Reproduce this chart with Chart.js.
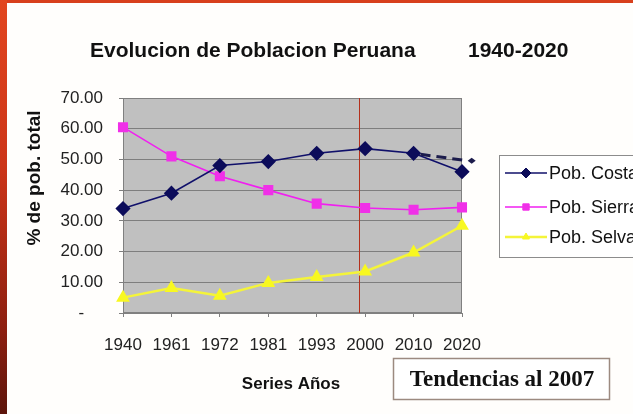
<!DOCTYPE html>
<html>
<head>
<meta charset="utf-8">
<script src="https://cdn.jsdelivr.net/npm/chart.js@4"></script>
<style>
  html, body { margin: 0; padding: 0; background: #ffffff; }
  #wrap { position: relative; width: 633px; height: 414px; overflow: hidden; background: #fffefc; }
  #chart { position: absolute; left: 0; top: 0; }
  .edge-left { position: absolute; left: 0; top: 0; width: 7px; height: 414px;
    background: linear-gradient(to bottom, #e2461f, #cc3518 40%, #8c1f10 80%, #5c150b); }
  .edge-top { position: absolute; left: 0; top: 0; width: 633px; height: 3px; background: #d8401d; }
</style>
</head>
<body>
<div id="wrap">
  <canvas id="chart" width="633" height="414"></canvas>
  <div class="edge-top"></div>
  <div class="edge-left"></div>
</div>
<script>
// Data
const years = ["1940", "1961", "1972", "1981", "1993", "2000", "2010", "2020"];
const costa = [34, 39, 48, 49.3, 52, 53.5, 52, 46];
const sierra = [60.5, 51, 44.5, 40, 35.6, 34.2, 33.6, 34.4];
const selva = [5, 8.1, 5.6, 9.8, 11.7, 13.5, 19.7, 28.4];
const seriesNames = ["Pob. Costa", "Pob. Sierra", "Pob. Selva"];

// Dashed trend on the costa line, and the vertical marker line
const trendStartIndex = 6;
const trendEnd = { index: 7.2, value: 49.6 };
const markerIndex = 4.87;

const titleMain = "Evolucion de Poblacion Peruana";
const titleYears = "1940-2020";
const yTitle = "% de pob. total";
const xTitle = "Series Años";
const noteText = "Tendencias al 2007";

const sans = "'Liberation Sans', Arial, sans-serif";

// Extra drawing: gray plot, marker line, trend, titles, legend, note box
const decor = {
  id: "decor",
  beforeDraw(chart) {
    const { ctx, chartArea: a } = chart;
    ctx.save();
    ctx.fillStyle = "#c0c0c0";
    ctx.fillRect(a.left, a.top, a.right - a.left, a.bottom - a.top);
    ctx.restore();
  },
  beforeDatasetsDraw(chart) {
    const { ctx, chartArea: a, scales } = chart;
    ctx.save();
    ctx.strokeStyle = "#808080";
    ctx.lineWidth = 1;
    ctx.strokeRect(a.left + 0.5, a.top + 0.5, a.right - a.left - 1, a.bottom - a.top - 1);
    const mx = Math.round(scales.x.getPixelForValue(markerIndex)) + 0.5;
    ctx.strokeStyle = "#b4301c";
    ctx.beginPath();
    ctx.moveTo(mx, a.top);
    ctx.lineTo(mx, a.bottom);
    ctx.stroke();
    ctx.restore();
  },
  afterDatasetsDraw(chart) {
    const { ctx, scales } = chart;
    const x0 = scales.x.getPixelForValue(trendStartIndex);
    const y0 = scales.y.getPixelForValue(costa[trendStartIndex]);
    const x1 = scales.x.getPixelForValue(trendEnd.index);
    const y1 = scales.y.getPixelForValue(trendEnd.value);
    ctx.save();
    ctx.strokeStyle = "#1c1c4c";
    ctx.lineWidth = 3;
    ctx.setLineDash([10, 6]);
    ctx.beginPath();
    ctx.moveTo(x0 + 7, y0 + 1);
    ctx.lineTo(x1 - 5, y1);
    ctx.stroke();
    ctx.setLineDash([]);
    ctx.fillStyle = "#1c1c4c";
    ctx.beginPath();
    ctx.moveTo(x1 - 4, y1);
    ctx.lineTo(x1, y1 - 3);
    ctx.lineTo(x1 + 4, y1);
    ctx.lineTo(x1, y1 + 3);
    ctx.closePath();
    ctx.fill();
    ctx.restore();
  },
  afterDraw(chart) {
    const { ctx } = chart;
    ctx.save();
    ctx.fillStyle = "#111";
    ctx.textBaseline = "middle";
    ctx.font = "bold 21px " + sans;
    ctx.textAlign = "left";
    ctx.fillText(titleMain, 90, 51);
    ctx.fillText(titleYears, 468, 51);

    ctx.font = "bold 17px " + sans;
    ctx.textAlign = "center";
    ctx.fillText(xTitle, 291, 384);

    ctx.save();
    ctx.translate(35, 178);
    ctx.rotate(-Math.PI / 2);
    ctx.font = "bold 19px " + sans;
    ctx.fillText(yTitle, 0, 0);
    ctx.restore();

    // note box
    ctx.fillStyle = "#ffffff";
    ctx.fillRect(393, 358, 217, 42);
    ctx.strokeStyle = "#9c8a80";
    ctx.lineWidth = 1.5;
    ctx.strokeRect(393.5, 358.5, 216, 41);
    ctx.fillStyle = "#111";
    ctx.font = "bold 23px 'Liberation Serif', 'Times New Roman', serif";
    ctx.fillText(noteText, 502, 380);

    // legend
    ctx.fillStyle = "#ffffff";
    ctx.fillRect(499, 155, 160, 102);
    ctx.strokeStyle = "#8c8c8c";
    ctx.lineWidth = 1;
    ctx.strokeRect(499.5, 155.5, 160, 102);
    const rows = [173, 207, 237];
    chart.data.datasets.forEach((ds, i) => {
      const y = rows[i];
      ctx.strokeStyle = ds.borderColor;
      ctx.lineWidth = ds.borderWidth;
      ctx.beginPath();
      ctx.moveTo(505, y);
      ctx.lineTo(547, y);
      ctx.stroke();
      ctx.fillStyle = ds.pointBackgroundColor;
      ctx.strokeStyle = ds.pointBorderColor;
      ctx.lineWidth = 1;
      Chart.helpers.drawPoint(ctx, {
        pointStyle: ds.pointStyle,
        radius: ds.pointRadius - 1.5,
        borderWidth: 1
      }, 526, y);
      ctx.fillStyle = "#111";
      ctx.textAlign = "left";
      ctx.font = "18px " + sans;
      ctx.fillText(ds.label, 549, y + 1);
    });
    ctx.restore();
  }
};

new Chart(document.getElementById("chart"), {
  type: "line",
  data: {
    labels: years,
    datasets: [
      {
        label: seriesNames[0],
        data: costa,
        borderColor: "#10106a",
        borderWidth: 1.6,
        pointStyle: "rectRot",
        pointRadius: 6.5,
        pointBackgroundColor: "#0c0c5a",
        pointBorderColor: "#0c0c5a",
        tension: 0
      },
      {
        label: seriesNames[1],
        data: sierra,
        borderColor: "#f020f0",
        borderWidth: 1.6,
        pointStyle: "rect",
        pointRadius: 6,
        pointBackgroundColor: "#f030e8",
        pointBorderColor: "#f030e8",
        tension: 0
      },
      {
        label: seriesNames[2],
        data: selva,
        borderColor: "#f4f43a",
        borderWidth: 2.5,
        pointStyle: "triangle",
        pointRadius: 5.5,
        pointBackgroundColor: "#f8f820",
        pointBorderColor: "#f8f820",
        tension: 0
      }
    ]
  },
  options: {
    responsive: false,
    animation: false,
    devicePixelRatio: 1,
    layout: { padding: { top: 98, right: 171, bottom: 0, left: 0 } },
    plugins: {
      legend: { display: false },
      title: { display: false },
      tooltip: { enabled: false }
    },
    scales: {
      x: {
        offset: false,
        afterFit(scale) { scale.height = 101; },
        grid: { drawOnChartArea: false, drawTicks: true, tickLength: 4, color: "#808080" },
        border: { color: "#808080" },
        ticks: {
          padding: 18,
          maxRotation: 0,
          autoSkip: false,
          color: "#222",
          font: { family: sans, size: 17 }
        }
      },
      y: {
        min: 0,
        max: 70,
        afterFit(scale) { scale.width = 123; },
        grid: { color: "#7e7e7e", tickLength: 4, drawTicks: true },
        border: { color: "#808080" },
        ticks: {
          stepSize: 10,
          padding: 16,
          color: "#222",
          font: { family: sans, size: 17 },
          callback: (v) => (v === 0 ? "-    " : v.toFixed(2))
        }
      }
    }
  },
  plugins: [decor]
});
</script>
</body>
</html>
